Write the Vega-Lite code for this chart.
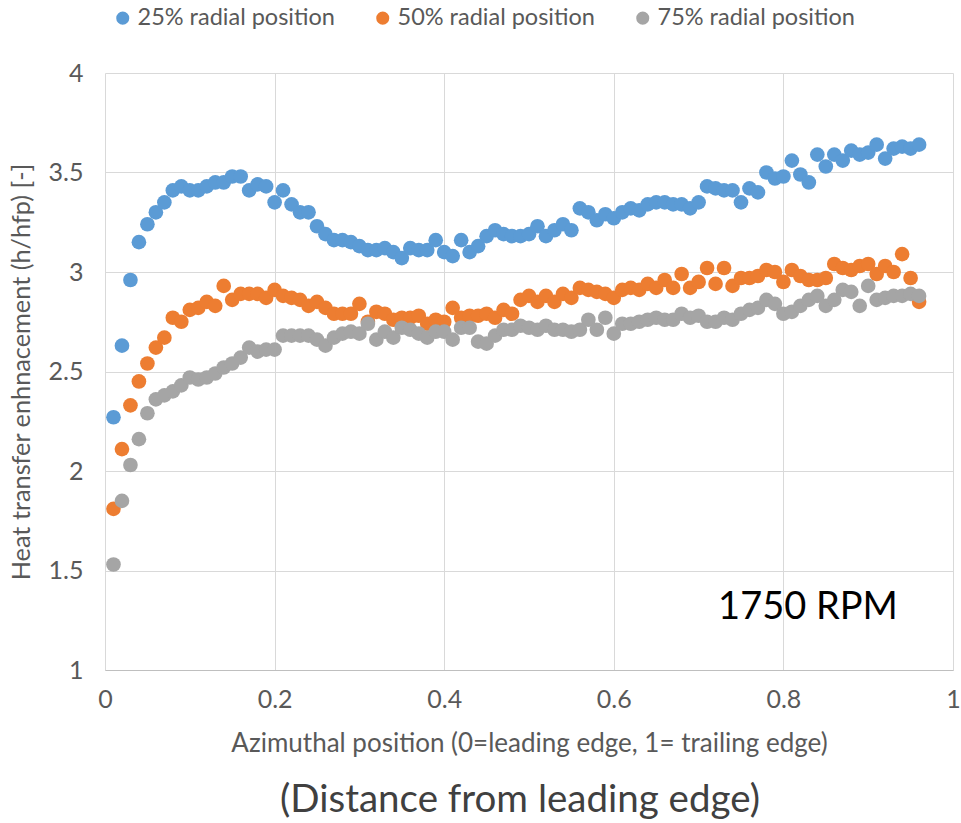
{
  "$schema": "https://vega.github.io/schema/vega-lite/v6.json",
  "autosize": "none",
  "width": 848,
  "height": 597,
  "padding": {"left": 105, "top": 73, "right": 8, "bottom": 153},
  "background": "white",
  "config": {
    "font": "Lato",
    "view": {"stroke": null},
    "axis": {
      "labelColor": "#595959",
      "titleColor": "#595959",
      "labelFont": "Lato",
      "titleFont": "Lato",
      "titleFontWeight": "normal",
      "gridColor": "#D9D9D9",
      "gridWidth": 1,
      "ticks": false
    }
  },
  "title": {
    "text": "(Distance from leading edge)",
    "orient": "bottom",
    "anchor": "middle",
    "fontSize": 38.5,
    "fontWeight": "normal",
    "color": "#404040",
    "offset": 26,
    "dx": -9
  },
  "datasets": {
    "points": [
      {"s": "25% radial position", "x": 0.01, "h": 2.27}, {"s": "25% radial position", "x": 0.02, "h": 2.63}, {"s": "25% radial position", "x": 0.03, "h": 2.96}, {"s": "25% radial position", "x": 0.04, "h": 3.15}, {"s": "25% radial position", "x": 0.05, "h": 3.24}, {"s": "25% radial position", "x": 0.06, "h": 3.30}, {"s": "25% radial position", "x": 0.07, "h": 3.35}, {"s": "25% radial position", "x": 0.08, "h": 3.41}, {"s": "25% radial position", "x": 0.09, "h": 3.43}, {"s": "25% radial position", "x": 0.10, "h": 3.41},
      {"s": "25% radial position", "x": 0.11, "h": 3.41}, {"s": "25% radial position", "x": 0.12, "h": 3.43}, {"s": "25% radial position", "x": 0.13, "h": 3.45}, {"s": "25% radial position", "x": 0.14, "h": 3.45}, {"s": "25% radial position", "x": 0.15, "h": 3.48}, {"s": "25% radial position", "x": 0.16, "h": 3.48}, {"s": "25% radial position", "x": 0.17, "h": 3.41}, {"s": "25% radial position", "x": 0.18, "h": 3.44}, {"s": "25% radial position", "x": 0.19, "h": 3.43}, {"s": "25% radial position", "x": 0.20, "h": 3.35},
      {"s": "25% radial position", "x": 0.21, "h": 3.41}, {"s": "25% radial position", "x": 0.22, "h": 3.34}, {"s": "25% radial position", "x": 0.23, "h": 3.30}, {"s": "25% radial position", "x": 0.24, "h": 3.30}, {"s": "25% radial position", "x": 0.25, "h": 3.23}, {"s": "25% radial position", "x": 0.26, "h": 3.19}, {"s": "25% radial position", "x": 0.27, "h": 3.16}, {"s": "25% radial position", "x": 0.28, "h": 3.16}, {"s": "25% radial position", "x": 0.29, "h": 3.15}, {"s": "25% radial position", "x": 0.30, "h": 3.13},
      {"s": "25% radial position", "x": 0.31, "h": 3.11}, {"s": "25% radial position", "x": 0.32, "h": 3.11}, {"s": "25% radial position", "x": 0.33, "h": 3.12}, {"s": "25% radial position", "x": 0.34, "h": 3.10}, {"s": "25% radial position", "x": 0.35, "h": 3.07}, {"s": "25% radial position", "x": 0.36, "h": 3.12}, {"s": "25% radial position", "x": 0.37, "h": 3.11}, {"s": "25% radial position", "x": 0.38, "h": 3.11}, {"s": "25% radial position", "x": 0.39, "h": 3.16}, {"s": "25% radial position", "x": 0.40, "h": 3.10},
      {"s": "25% radial position", "x": 0.41, "h": 3.08}, {"s": "25% radial position", "x": 0.42, "h": 3.16}, {"s": "25% radial position", "x": 0.43, "h": 3.10}, {"s": "25% radial position", "x": 0.44, "h": 3.13}, {"s": "25% radial position", "x": 0.45, "h": 3.18}, {"s": "25% radial position", "x": 0.46, "h": 3.21}, {"s": "25% radial position", "x": 0.47, "h": 3.19}, {"s": "25% radial position", "x": 0.48, "h": 3.18}, {"s": "25% radial position", "x": 0.49, "h": 3.18}, {"s": "25% radial position", "x": 0.50, "h": 3.19},
      {"s": "25% radial position", "x": 0.51, "h": 3.23}, {"s": "25% radial position", "x": 0.52, "h": 3.18}, {"s": "25% radial position", "x": 0.53, "h": 3.21}, {"s": "25% radial position", "x": 0.54, "h": 3.24}, {"s": "25% radial position", "x": 0.55, "h": 3.21}, {"s": "25% radial position", "x": 0.56, "h": 3.32}, {"s": "25% radial position", "x": 0.57, "h": 3.30}, {"s": "25% radial position", "x": 0.58, "h": 3.26}, {"s": "25% radial position", "x": 0.59, "h": 3.29}, {"s": "25% radial position", "x": 0.60, "h": 3.27},
      {"s": "25% radial position", "x": 0.61, "h": 3.30}, {"s": "25% radial position", "x": 0.62, "h": 3.32}, {"s": "25% radial position", "x": 0.63, "h": 3.31}, {"s": "25% radial position", "x": 0.64, "h": 3.34}, {"s": "25% radial position", "x": 0.65, "h": 3.35}, {"s": "25% radial position", "x": 0.66, "h": 3.35}, {"s": "25% radial position", "x": 0.67, "h": 3.34}, {"s": "25% radial position", "x": 0.68, "h": 3.34}, {"s": "25% radial position", "x": 0.69, "h": 3.32}, {"s": "25% radial position", "x": 0.70, "h": 3.35},
      {"s": "25% radial position", "x": 0.71, "h": 3.43}, {"s": "25% radial position", "x": 0.72, "h": 3.42}, {"s": "25% radial position", "x": 0.73, "h": 3.41}, {"s": "25% radial position", "x": 0.74, "h": 3.41}, {"s": "25% radial position", "x": 0.75, "h": 3.35}, {"s": "25% radial position", "x": 0.76, "h": 3.42}, {"s": "25% radial position", "x": 0.77, "h": 3.40}, {"s": "25% radial position", "x": 0.78, "h": 3.50}, {"s": "25% radial position", "x": 0.79, "h": 3.47}, {"s": "25% radial position", "x": 0.80, "h": 3.48},
      {"s": "25% radial position", "x": 0.81, "h": 3.56}, {"s": "25% radial position", "x": 0.82, "h": 3.49}, {"s": "25% radial position", "x": 0.83, "h": 3.45}, {"s": "25% radial position", "x": 0.84, "h": 3.59}, {"s": "25% radial position", "x": 0.85, "h": 3.53}, {"s": "25% radial position", "x": 0.86, "h": 3.59}, {"s": "25% radial position", "x": 0.87, "h": 3.56}, {"s": "25% radial position", "x": 0.88, "h": 3.61}, {"s": "25% radial position", "x": 0.89, "h": 3.59}, {"s": "25% radial position", "x": 0.90, "h": 3.60},
      {"s": "25% radial position", "x": 0.91, "h": 3.64}, {"s": "25% radial position", "x": 0.92, "h": 3.57}, {"s": "25% radial position", "x": 0.93, "h": 3.62}, {"s": "25% radial position", "x": 0.94, "h": 3.63}, {"s": "25% radial position", "x": 0.95, "h": 3.62}, {"s": "25% radial position", "x": 0.96, "h": 3.64},

      {"s": "50% radial position", "x": 0.01, "h": 1.81}, {"s": "50% radial position", "x": 0.02, "h": 2.11}, {"s": "50% radial position", "x": 0.03, "h": 2.33}, {"s": "50% radial position", "x": 0.04, "h": 2.45}, {"s": "50% radial position", "x": 0.05, "h": 2.54}, {"s": "50% radial position", "x": 0.06, "h": 2.62}, {"s": "50% radial position", "x": 0.07, "h": 2.67}, {"s": "50% radial position", "x": 0.08, "h": 2.77}, {"s": "50% radial position", "x": 0.09, "h": 2.75}, {"s": "50% radial position", "x": 0.10, "h": 2.81},
      {"s": "50% radial position", "x": 0.11, "h": 2.82}, {"s": "50% radial position", "x": 0.12, "h": 2.85}, {"s": "50% radial position", "x": 0.13, "h": 2.83}, {"s": "50% radial position", "x": 0.14, "h": 2.93}, {"s": "50% radial position", "x": 0.15, "h": 2.86}, {"s": "50% radial position", "x": 0.16, "h": 2.89}, {"s": "50% radial position", "x": 0.17, "h": 2.89}, {"s": "50% radial position", "x": 0.18, "h": 2.89}, {"s": "50% radial position", "x": 0.19, "h": 2.87}, {"s": "50% radial position", "x": 0.20, "h": 2.91},
      {"s": "50% radial position", "x": 0.21, "h": 2.88}, {"s": "50% radial position", "x": 0.22, "h": 2.87}, {"s": "50% radial position", "x": 0.23, "h": 2.86}, {"s": "50% radial position", "x": 0.24, "h": 2.83}, {"s": "50% radial position", "x": 0.25, "h": 2.85}, {"s": "50% radial position", "x": 0.26, "h": 2.82}, {"s": "50% radial position", "x": 0.27, "h": 2.79}, {"s": "50% radial position", "x": 0.28, "h": 2.79}, {"s": "50% radial position", "x": 0.29, "h": 2.79}, {"s": "50% radial position", "x": 0.30, "h": 2.84},
      {"s": "50% radial position", "x": 0.31, "h": 2.75}, {"s": "50% radial position", "x": 0.32, "h": 2.80}, {"s": "50% radial position", "x": 0.33, "h": 2.79}, {"s": "50% radial position", "x": 0.34, "h": 2.76}, {"s": "50% radial position", "x": 0.35, "h": 2.77}, {"s": "50% radial position", "x": 0.36, "h": 2.77}, {"s": "50% radial position", "x": 0.37, "h": 2.78}, {"s": "50% radial position", "x": 0.38, "h": 2.74}, {"s": "50% radial position", "x": 0.39, "h": 2.76}, {"s": "50% radial position", "x": 0.40, "h": 2.75},
      {"s": "50% radial position", "x": 0.41, "h": 2.82}, {"s": "50% radial position", "x": 0.42, "h": 2.77}, {"s": "50% radial position", "x": 0.43, "h": 2.78}, {"s": "50% radial position", "x": 0.44, "h": 2.78}, {"s": "50% radial position", "x": 0.45, "h": 2.79}, {"s": "50% radial position", "x": 0.46, "h": 2.77}, {"s": "50% radial position", "x": 0.47, "h": 2.81}, {"s": "50% radial position", "x": 0.48, "h": 2.79}, {"s": "50% radial position", "x": 0.49, "h": 2.86}, {"s": "50% radial position", "x": 0.50, "h": 2.88},
      {"s": "50% radial position", "x": 0.51, "h": 2.85}, {"s": "50% radial position", "x": 0.52, "h": 2.88}, {"s": "50% radial position", "x": 0.53, "h": 2.85}, {"s": "50% radial position", "x": 0.54, "h": 2.89}, {"s": "50% radial position", "x": 0.55, "h": 2.87}, {"s": "50% radial position", "x": 0.56, "h": 2.92}, {"s": "50% radial position", "x": 0.57, "h": 2.91}, {"s": "50% radial position", "x": 0.58, "h": 2.90}, {"s": "50% radial position", "x": 0.59, "h": 2.89}, {"s": "50% radial position", "x": 0.60, "h": 2.87},
      {"s": "50% radial position", "x": 0.61, "h": 2.91}, {"s": "50% radial position", "x": 0.62, "h": 2.92}, {"s": "50% radial position", "x": 0.63, "h": 2.91}, {"s": "50% radial position", "x": 0.64, "h": 2.94}, {"s": "50% radial position", "x": 0.65, "h": 2.92}, {"s": "50% radial position", "x": 0.66, "h": 2.96}, {"s": "50% radial position", "x": 0.67, "h": 2.92}, {"s": "50% radial position", "x": 0.68, "h": 2.99}, {"s": "50% radial position", "x": 0.69, "h": 2.92}, {"s": "50% radial position", "x": 0.70, "h": 2.95},
      {"s": "50% radial position", "x": 0.71, "h": 3.02}, {"s": "50% radial position", "x": 0.72, "h": 2.94}, {"s": "50% radial position", "x": 0.73, "h": 3.02}, {"s": "50% radial position", "x": 0.74, "h": 2.93}, {"s": "50% radial position", "x": 0.75, "h": 2.97}, {"s": "50% radial position", "x": 0.76, "h": 2.97}, {"s": "50% radial position", "x": 0.77, "h": 2.98}, {"s": "50% radial position", "x": 0.78, "h": 3.01}, {"s": "50% radial position", "x": 0.79, "h": 3.00}, {"s": "50% radial position", "x": 0.80, "h": 2.95},
      {"s": "50% radial position", "x": 0.81, "h": 3.01}, {"s": "50% radial position", "x": 0.82, "h": 2.98}, {"s": "50% radial position", "x": 0.83, "h": 2.96}, {"s": "50% radial position", "x": 0.84, "h": 2.96}, {"s": "50% radial position", "x": 0.85, "h": 2.97}, {"s": "50% radial position", "x": 0.86, "h": 3.04}, {"s": "50% radial position", "x": 0.87, "h": 3.02}, {"s": "50% radial position", "x": 0.88, "h": 3.01}, {"s": "50% radial position", "x": 0.89, "h": 3.03}, {"s": "50% radial position", "x": 0.90, "h": 3.04},
      {"s": "50% radial position", "x": 0.91, "h": 2.99}, {"s": "50% radial position", "x": 0.92, "h": 3.03}, {"s": "50% radial position", "x": 0.93, "h": 3.00}, {"s": "50% radial position", "x": 0.94, "h": 3.09}, {"s": "50% radial position", "x": 0.95, "h": 2.97}, {"s": "50% radial position", "x": 0.96, "h": 2.85},

      {"s": "75% radial position", "x": 0.01, "h": 1.53}, {"s": "75% radial position", "x": 0.02, "h": 1.85}, {"s": "75% radial position", "x": 0.03, "h": 2.03}, {"s": "75% radial position", "x": 0.04, "h": 2.16}, {"s": "75% radial position", "x": 0.05, "h": 2.29}, {"s": "75% radial position", "x": 0.06, "h": 2.36}, {"s": "75% radial position", "x": 0.07, "h": 2.38}, {"s": "75% radial position", "x": 0.08, "h": 2.40}, {"s": "75% radial position", "x": 0.09, "h": 2.43}, {"s": "75% radial position", "x": 0.10, "h": 2.47},
      {"s": "75% radial position", "x": 0.11, "h": 2.46}, {"s": "75% radial position", "x": 0.12, "h": 2.47}, {"s": "75% radial position", "x": 0.13, "h": 2.49}, {"s": "75% radial position", "x": 0.14, "h": 2.52}, {"s": "75% radial position", "x": 0.15, "h": 2.54}, {"s": "75% radial position", "x": 0.16, "h": 2.57}, {"s": "75% radial position", "x": 0.17, "h": 2.62}, {"s": "75% radial position", "x": 0.18, "h": 2.60}, {"s": "75% radial position", "x": 0.19, "h": 2.61}, {"s": "75% radial position", "x": 0.20, "h": 2.61},
      {"s": "75% radial position", "x": 0.21, "h": 2.68}, {"s": "75% radial position", "x": 0.22, "h": 2.68}, {"s": "75% radial position", "x": 0.23, "h": 2.68}, {"s": "75% radial position", "x": 0.24, "h": 2.68}, {"s": "75% radial position", "x": 0.25, "h": 2.66}, {"s": "75% radial position", "x": 0.26, "h": 2.63}, {"s": "75% radial position", "x": 0.27, "h": 2.67}, {"s": "75% radial position", "x": 0.28, "h": 2.69}, {"s": "75% radial position", "x": 0.29, "h": 2.70}, {"s": "75% radial position", "x": 0.30, "h": 2.69},
      {"s": "75% radial position", "x": 0.31, "h": 2.74}, {"s": "75% radial position", "x": 0.32, "h": 2.66}, {"s": "75% radial position", "x": 0.33, "h": 2.70}, {"s": "75% radial position", "x": 0.34, "h": 2.67}, {"s": "75% radial position", "x": 0.35, "h": 2.72}, {"s": "75% radial position", "x": 0.36, "h": 2.71}, {"s": "75% radial position", "x": 0.37, "h": 2.69}, {"s": "75% radial position", "x": 0.38, "h": 2.67}, {"s": "75% radial position", "x": 0.39, "h": 2.70}, {"s": "75% radial position", "x": 0.40, "h": 2.70},
      {"s": "75% radial position", "x": 0.41, "h": 2.66}, {"s": "75% radial position", "x": 0.42, "h": 2.72}, {"s": "75% radial position", "x": 0.43, "h": 2.72}, {"s": "75% radial position", "x": 0.44, "h": 2.65}, {"s": "75% radial position", "x": 0.45, "h": 2.64}, {"s": "75% radial position", "x": 0.46, "h": 2.68}, {"s": "75% radial position", "x": 0.47, "h": 2.71}, {"s": "75% radial position", "x": 0.48, "h": 2.71}, {"s": "75% radial position", "x": 0.49, "h": 2.73}, {"s": "75% radial position", "x": 0.50, "h": 2.72},
      {"s": "75% radial position", "x": 0.51, "h": 2.71}, {"s": "75% radial position", "x": 0.52, "h": 2.73}, {"s": "75% radial position", "x": 0.53, "h": 2.71}, {"s": "75% radial position", "x": 0.54, "h": 2.71}, {"s": "75% radial position", "x": 0.55, "h": 2.70}, {"s": "75% radial position", "x": 0.56, "h": 2.71}, {"s": "75% radial position", "x": 0.57, "h": 2.76}, {"s": "75% radial position", "x": 0.58, "h": 2.71}, {"s": "75% radial position", "x": 0.59, "h": 2.77}, {"s": "75% radial position", "x": 0.60, "h": 2.69},
      {"s": "75% radial position", "x": 0.61, "h": 2.74}, {"s": "75% radial position", "x": 0.62, "h": 2.74}, {"s": "75% radial position", "x": 0.63, "h": 2.75}, {"s": "75% radial position", "x": 0.64, "h": 2.76}, {"s": "75% radial position", "x": 0.65, "h": 2.77}, {"s": "75% radial position", "x": 0.66, "h": 2.76}, {"s": "75% radial position", "x": 0.67, "h": 2.76}, {"s": "75% radial position", "x": 0.68, "h": 2.79}, {"s": "75% radial position", "x": 0.69, "h": 2.77}, {"s": "75% radial position", "x": 0.70, "h": 2.78},
      {"s": "75% radial position", "x": 0.71, "h": 2.75}, {"s": "75% radial position", "x": 0.72, "h": 2.75}, {"s": "75% radial position", "x": 0.73, "h": 2.77}, {"s": "75% radial position", "x": 0.74, "h": 2.76}, {"s": "75% radial position", "x": 0.75, "h": 2.79}, {"s": "75% radial position", "x": 0.76, "h": 2.81}, {"s": "75% radial position", "x": 0.77, "h": 2.82}, {"s": "75% radial position", "x": 0.78, "h": 2.86}, {"s": "75% radial position", "x": 0.79, "h": 2.84}, {"s": "75% radial position", "x": 0.80, "h": 2.79},
      {"s": "75% radial position", "x": 0.81, "h": 2.80}, {"s": "75% radial position", "x": 0.82, "h": 2.83}, {"s": "75% radial position", "x": 0.83, "h": 2.86}, {"s": "75% radial position", "x": 0.84, "h": 2.88}, {"s": "75% radial position", "x": 0.85, "h": 2.83}, {"s": "75% radial position", "x": 0.86, "h": 2.86}, {"s": "75% radial position", "x": 0.87, "h": 2.91}, {"s": "75% radial position", "x": 0.88, "h": 2.90}, {"s": "75% radial position", "x": 0.89, "h": 2.83}, {"s": "75% radial position", "x": 0.90, "h": 2.93},
      {"s": "75% radial position", "x": 0.91, "h": 2.86}, {"s": "75% radial position", "x": 0.92, "h": 2.87}, {"s": "75% radial position", "x": 0.93, "h": 2.88}, {"s": "75% radial position", "x": 0.94, "h": 2.88}, {"s": "75% radial position", "x": 0.95, "h": 2.89}, {"s": "75% radial position", "x": 0.96, "h": 2.88}
    ],
    "note": [
      {"label": "1750 RPM", "x": 0.829, "h": 1.31}
    ]
  },
  "layer": [
    {
      "data": {"name": "points"},
      "mark": {"type": "circle", "size": 215, "opacity": 1},
      "encoding": {
        "x": {
          "field": "x",
          "type": "quantitative",
          "scale": {"domain": [0, 1], "nice": false},
          "axis": {
            "values": [0, 0.2, 0.4, 0.6, 0.8, 1],
            "format": "~g",
            "labelFlush": false,
            "title": "Azimuthal position (0=leading edge, 1= trailing edge)",
            "labelFontSize": 25,
            "titleFontSize": 26,
            "labelPadding": 17,
            "titlePadding": 18,
            "domainColor": "#BFBFBF",
            "domainWidth": 1
          }
        },
        "y": {
          "field": "h",
          "type": "quantitative",
          "scale": {"domain": [1, 4], "nice": false, "zero": false},
          "axis": {
            "values": [1, 1.5, 2, 2.5, 3, 3.5, 4],
            "format": "~g",
            "labelFlush": false,
            "title": "Heat transfer enhnacement (h/hfp) [-]",
            "labelFontSize": 25,
            "titleFontSize": 25.3,
            "labelPadding": 22,
            "titlePadding": 14,
            "domain": false
          }
        },
        "color": {
          "field": "s",
          "type": "nominal",
          "scale": {
            "domain": ["25% radial position", "50% radial position", "75% radial position"],
            "range": ["#5B9BD5", "#ED7D31", "#A5A5A5"]
          },
          "legend": {
            "title": null,
            "orient": "none",
            "direction": "horizontal",
            "legendX": 6,
            "legendY": -67,
            "padding": 0,
            "symbolType": "circle",
            "symbolSize": 170,
            "symbolStrokeWidth": 0,
            "symbolOpacity": 1,
            "labelFontSize": 23.5,
            "labelColor": "#595959",
            "labelOffset": 3,
            "labelLimit": 400,
            "columnPadding": 36
          }
        }
      }
    },
    {
      "data": {"name": "note"},
      "mark": {"type": "text", "fontSize": 38, "color": "#000000", "align": "center", "baseline": "middle", "font": "Lato"},
      "encoding": {
        "x": {"field": "x", "type": "quantitative"},
        "y": {"field": "h", "type": "quantitative"},
        "text": {"field": "label"}
      }
    }
  ]
}
